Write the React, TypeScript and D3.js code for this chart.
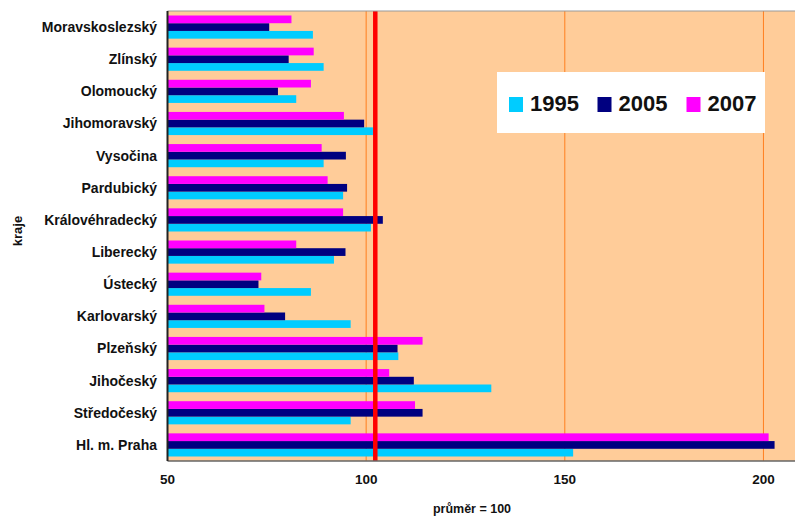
import * as d3 from "d3";

// kraje, shora dolů
const regions = [
  "Moravskoslezský",
  "Zlínský",
  "Olomoucký",
  "Jihomoravský",
  "Vysočina",
  "Pardubický",
  "Královéhradecký",
  "Liberecký",
  "Ústecký",
  "Karlovarský",
  "Plzeňský",
  "Jihočeský",
  "Středočeský",
  "Hl. m. Praha",
];

const years = ["1995", "2005", "2007"];

const values1995 = [86.6, 89.3, 82.4, 101.7, 89.3, 94.2, 101.2, 91.9, 86.1, 96.1, 108.1, 131.5, 96.1, 152.1];
const values2005 = [75.6, 80.5, 77.8, 99.5, 94.9, 95.2, 104.2, 94.8, 72.9, 79.6, 107.9, 112.0, 114.2, 202.8];
const values2007 = [81.2, 86.8, 86.1, 94.4, 88.8, 90.3, 94.2, 82.4, 73.6, 74.4, 114.2, 105.8, 112.3, 201.3];

const xTicks = [50, 100, 150, 200];
const gridValues = [100, 150, 200];
const averageLine = 102.3;

const seriesColors: Record<string, string> = {
  "1995": "#00CCFF",
  "2005": "#000080",
  "2007": "#FF00FF",
};

const W = 795;
const H = 517;
const plot = { left: 167.5, top: 11, bottom: 461 };
const FONT = "'Liberation Sans', Arial, sans-serif";

export default function App() {
  const x = d3.scaleLinear().domain([50, 210]).range([plot.left, plot.left + 160 * 3.973]);
  const y = d3
    .scaleBand<string>()
    .domain(regions)
    .range([plot.top, plot.bottom])
    .paddingInner(0.28)
    .paddingOuter(0.14);
  // 2007 nahoře, 1995 dole
  const inner = d3
    .scaleBand<string>()
    .domain(["2007", "2005", "1995"])
    .range([0, y.bandwidth()]);

  const rows = regions.map((r, i) => ({
    region: r,
    "1995": values1995[i],
    "2005": values2005[i],
    "2007": values2007[i],
  }));

  return (
    <div style={{ position: "absolute", left: 0, top: 0 }}>
      <svg width={W} height={H} style={{ display: "block", fontFamily: FONT }}>
        {/* plot area */}
        <rect x={plot.left} y={plot.top} width={W - plot.left} height={plot.bottom - plot.top} fill="#FFCC99" />
        {gridValues.map((v) => (
          <line key={v} x1={x(v)} x2={x(v)} y1={plot.top} y2={plot.bottom} stroke="#FF7F1F" strokeWidth={1} />
        ))}

        {/* bars */}
        {rows.map((row) =>
          years.map((yr) => (
            <rect
              key={row.region + yr}
              x={x(50)}
              y={(y(row.region) ?? 0) + (inner(yr) ?? 0)}
              width={x((row as any)[yr]) - x(50)}
              height={inner.bandwidth()}
              fill={seriesColors[yr]}
            />
          ))
        )}

        {/* průměr */}
        <line x1={x(averageLine)} x2={x(averageLine)} y1={plot.top} y2={plot.bottom} stroke="#FF0000" strokeWidth={4.5} />

        {/* frame */}
        <line x1={plot.left} x2={W} y1={plot.top} y2={plot.top} stroke="#999" strokeWidth={1.2} />
        <line x1={plot.left} x2={W} y1={plot.bottom} y2={plot.bottom} stroke="#666" strokeWidth={1.5} />
        <line x1={plot.left} x2={plot.left} y1={plot.top} y2={plot.bottom} stroke="#222" strokeWidth={2} />

        {/* category labels */}
        {regions.map((r) => (
          <text
            key={r}
            x={157}
            y={(y(r) ?? 0) + y.bandwidth() / 2}
            dy="0.35em"
            textAnchor="end"
            fontSize={14}
            fontWeight="bold"
            fill="#111"
          >
            {r}
          </text>
        ))}

        {/* x tick labels */}
        {xTicks.map((t) => (
          <text key={t} x={x(t)} y={484} textAnchor="middle" fontSize={13.5} fontWeight="bold" fill="#111">
            {t}
          </text>
        ))}

        <text x={472} y={513} textAnchor="middle" fontSize={12.5} fontWeight="bold" fill="#111">
          průměr = 100
        </text>
        <text
          transform={`translate(21.5,231) rotate(-90)`}
          textAnchor="middle"
          fontSize={13}
          fontWeight="bold"
          fill="#111"
        >
          kraje
        </text>

        {/* legend */}
        <rect x={497} y={72} width={268} height={61} fill="#fff" />
        {years.map((yr, i) => {
          const lx = [509, 597.5, 686.5][i];
          return (
            <g key={yr}>
              <rect x={lx} y={97} width={14} height={15} fill={seriesColors[yr]} />
              <text x={lx + 21} y={111} fontSize={22} fontWeight="bold" fill="#111">
                {yr}
              </text>
            </g>
          );
        })}
      </svg>
    </div>
  );
}
